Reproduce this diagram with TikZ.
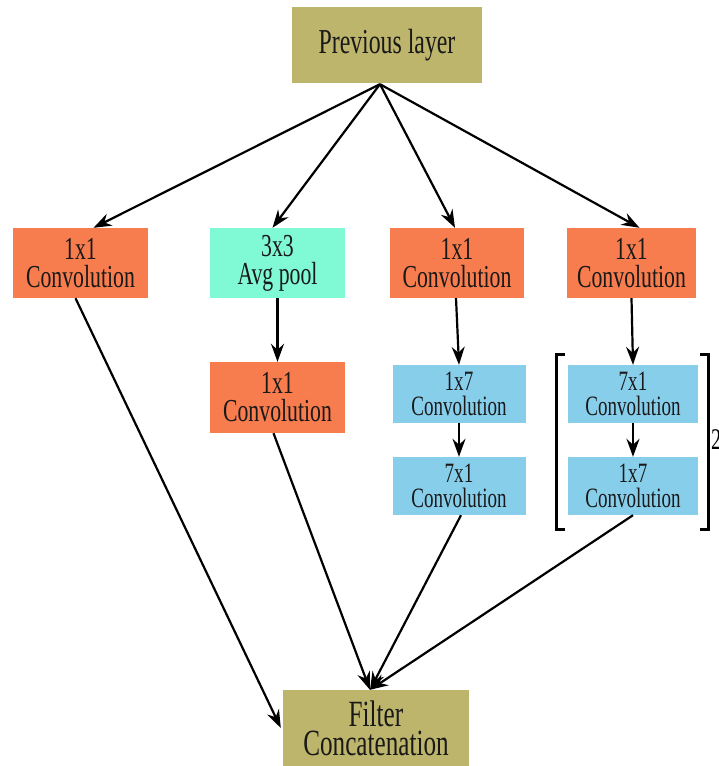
\documentclass[tikz,border=0pt]{standalone}
\usepackage{fontspec}
\setmainfont[FakeStretch=0.68]{Liberation Serif}
\usetikzlibrary{arrows.meta}

\definecolor{khaki}{RGB}{189,181,107}
\definecolor{coralbox}{RGB}{247,124,78}
\definecolor{aquabox}{RGB}{127,250,212}
\definecolor{skybox}{RGB}{135,206,235}

\begin{document}
\begin{tikzpicture}[x=1pt,y=1pt,
  box/.style={inner sep=0pt,align=center,text=black!90},
  bigbox/.style={box,fill=khaki,minimum width=190pt,minimum height=76pt,font=\fontsize{35}{28}\selectfont},
  convbox/.style={box,minimum width=134pt,minimum height=70pt,font=\fontsize{32}{28}\selectfont},
  smallbox/.style={box,fill=skybox,minimum width=133pt,minimum height=58pt,font=\fontsize{28}{25}\selectfont},
  arr/.style={line width=2.2pt,-{Stealth[length=18pt,width=13pt,inset=6pt]}},
  brk/.style={line width=2.8pt}]
\useasboundingbox (0,0) rectangle (719,-766);

% input and output
\node[bigbox] (prev) at (387,-45) {Previous layer};
\node[bigbox,minimum width=186pt,font=\fontsize{37}{29}\selectfont] (filt) at (376,-728) {Filter\\Concatenation};

% first row
\node[convbox,fill=coralbox,minimum width=135pt] (a1) at (80.5,-263) {1x1\\Convolution};
\node[convbox,fill=aquabox,minimum width=135pt] (b1) at (277.5,-263) {3x3\\Avg pool};
\node[convbox,fill=coralbox] (c1) at (457,-263) {1x1\\Convolution};
\node[convbox,fill=coralbox,minimum width=129pt] (d1) at (631.5,-263) {1x1\\Convolution};

% second row
\node[convbox,fill=coralbox,minimum width=135pt,minimum height=71pt] (b2) at (277.5,-397.5) {1x1\\Convolution};
\node[smallbox] (c2) at (459,-394) {1x7\\Convolution};
\node[smallbox,minimum width=130pt] (d2) at (633,-394) {7x1\\Convolution};

% third row
\node[smallbox] (c3) at (459,-486) {7x1\\Convolution};
\node[smallbox,minimum width=130pt] (d3) at (633,-486) {1x7\\Convolution};

% bracket
\draw[brk] ([xshift=-3pt,yshift=10pt]d2.north west) -- ([xshift=-11pt,yshift=10pt]d2.north west)
  -- ([xshift=-11pt,yshift=-14pt]d3.south west) -- ([xshift=-3pt,yshift=-14pt]d3.south west);
\draw[brk] ([xshift=2pt,yshift=10pt]d2.north east) -- ([xshift=10pt,yshift=10pt]d2.north east)
  -- ([xshift=10pt,yshift=-14pt]d3.south east) -- ([xshift=2pt,yshift=-14pt]d3.south east);
\node[anchor=west,inner sep=0pt,font=\fontsize{30}{30}\selectfont] (rep) at (711,-440) {2};

% connectors
\coordinate (top) at ([xshift=-7pt,yshift=-1pt]prev.south);
\draw[arr] (top) -- ([xshift=13pt]a1.north);
\draw[arr] (top) -- ([xshift=-5pt]b1.north);
\draw[arr] (top) -- ([xshift=-2pt]c1.north);
\draw[arr] (top) -- ([xshift=8pt]d1.north);

\draw[arr] (b1) -- (b2);
\draw[arr] ([xshift=-1pt]c1.south) -- (c2.north);
\draw[arr] (c2) -- (c3);
\draw[arr] (d1.south) -- (d2.north);
\draw[arr] (d2) -- (d3);

\draw[arr] ([xshift=-5pt]a1.south) -- ([xshift=-2pt]filt.west);
\draw[arr] ([xshift=-4pt]b2.south) -- ([xshift=-6pt]filt.north);
\draw[arr] ([xshift=2pt]c3.south) -- ([xshift=-6pt]filt.north);
\draw[arr] (d3.south) -- ([xshift=-6pt]filt.north);

\end{tikzpicture}
\end{document}
